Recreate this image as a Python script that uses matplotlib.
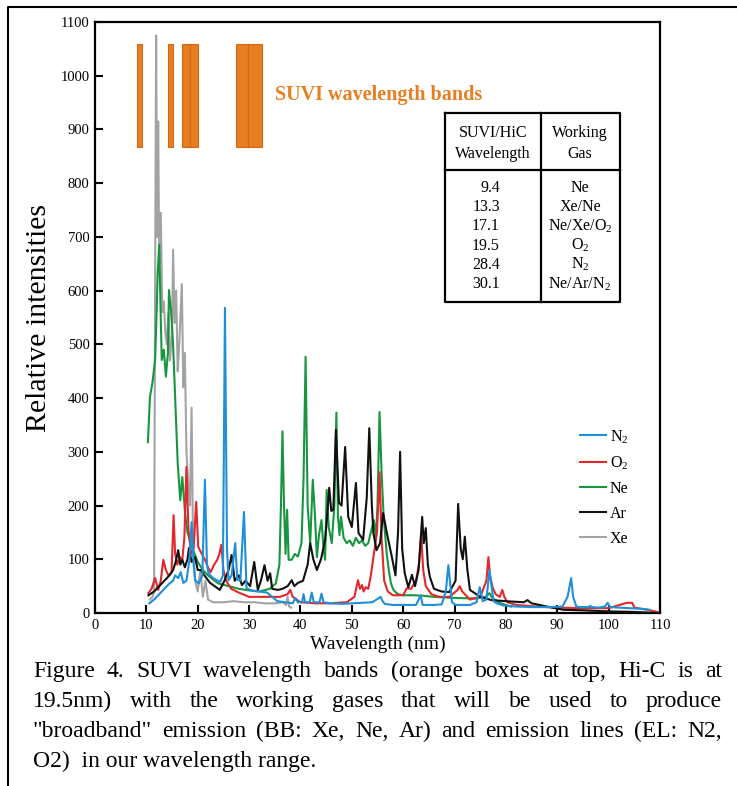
import matplotlib
matplotlib.use("Agg")
import matplotlib.pyplot as plt
from matplotlib.lines import Line2D

plt.rcParams['font.family'] = ['Liberation Serif', 'DejaVu Serif']

# ---- spectra (wavelength nm, relative intensity) ----
n2_wl = [10.6, 11.5, 12.5, 13.5, 14.5, 15.2, 15.6, 16.2, 16.7, 17.2, 17.8, 18.4, 18.8, 19.2, 19.5,
         20.2, 20.9, 21.4, 21.8, 22.1, 23.0, 23.7, 24.4, 24.9, 25.3, 25.7, 26.0, 26.6, 27.3, 27.7,
         28.3, 29.0, 29.5, 30.5, 32.0, 33.5, 34.5, 35.5, 37.0, 38.5, 39.0, 39.5, 40.3, 40.6, 40.9,
         41.8, 42.2, 42.6, 43.7, 44.1, 44.5, 46.0, 48.0, 50.0, 52.0, 54.0, 55.6, 56.0, 56.4, 58.0,
         60.0, 62.5, 63.4, 63.8, 64.5, 66.0, 67.5, 68.3, 68.8, 69.1, 69.5, 70.2, 71.5, 73.0, 74.3,
         74.9, 75.5, 76.2, 76.8, 77.2, 77.6, 78.2, 79.5, 82.0, 85.0, 88.0, 91.0, 92.0, 92.7, 93.1,
         93.7, 94.5, 96.0, 96.4, 96.8, 98.0, 99.3, 99.8, 100.3, 102.0, 104.0, 106.0, 108.0]
n2_val = [18, 25, 35, 45, 55, 60, 70, 65, 76, 56, 60, 100, 169, 90, 61,
          55, 70, 248, 90, 74, 65, 61, 58, 70, 568, 120, 61, 70, 130, 62,
          60, 188, 46, 42, 40, 38, 30, 22, 20, 18, 28, 20, 20, 35, 20,
          20, 38, 20, 20, 36, 20, 18, 17, 18, 19, 20, 30, 22, 17, 15,
          15, 15, 33, 15, 15, 15, 16, 40, 89, 60, 20, 15, 15, 15, 20,
          48, 22, 25, 80, 50, 22, 18, 14, 12, 11, 11, 12, 30, 65, 30,
          12, 11, 11, 13, 11, 10, 12, 19, 11, 10, 9, 8, 6]

o2_wl = [10.4, 11.0, 11.7, 12.3, 12.8, 13.3, 13.8, 14.3, 14.9, 15.3, 15.6, 16.0, 16.5, 17.0, 17.4,
         17.8, 18.2, 18.7, 19.2, 19.7, 20.1, 20.8, 21.4, 22.0, 22.5, 23.2, 23.8, 24.2, 24.6, 25.0,
         25.5, 26.5, 28.0, 30.0, 32.0, 34.0, 36.0, 37.5, 38.0, 38.5, 40.0, 43.0, 46.0, 49.0, 50.5,
         51.2, 51.6, 52.0, 52.3, 52.7, 53.2, 53.7, 54.3, 54.9, 55.4, 55.8, 56.3, 57.0, 58.0, 60.0,
         60.7, 61.5, 62.5, 63.1, 63.5, 63.9, 64.4, 65.5, 67.0, 69.0, 70.6, 71.0, 71.5, 73.0, 75.0,
         76.2, 76.6, 76.9, 77.4, 78.0, 78.8, 79.3, 79.7, 80.3, 82.0, 86.0, 90.0, 95.0, 100.0, 103.2,
         103.6, 104.6, 105.0, 107.0, 109.5]
o2_val = [37, 45, 65, 43, 60, 99, 80, 70, 75, 182, 110, 90, 104, 99, 140,
          272, 155, 110, 120, 207, 123, 110, 99, 85, 76, 90, 99, 110, 127, 80,
          61, 45, 38, 30, 30, 30, 30, 35, 43, 30, 20, 18, 18, 20, 30,
          61, 45, 52, 40, 48, 45, 70, 110, 150, 262, 140, 60, 40, 33, 33,
          46, 45, 60, 93, 145, 80, 50, 35, 30, 30, 43, 50, 40, 25, 30,
          60, 104, 70, 48, 35, 30, 43, 30, 20, 15, 12, 10, 9, 9, 18,
          19, 19, 10, 7, 2]

ne_wl = [10.3, 10.7, 11.2, 11.7, 12.0, 12.2, 12.5, 12.8, 13.0, 13.4, 13.8, 14.2, 14.4, 14.8, 15.2,
         15.6, 16.1, 16.6, 17.0, 17.5, 18.0, 19.0, 20.0, 21.0, 22.0, 24.0, 26.0, 28.0, 30.0, 32.0,
         34.0, 35.2, 35.9, 36.2, 36.5, 36.8, 37.1, 37.4, 37.7, 38.3, 38.9, 39.5, 40.2, 40.6, 41.0,
         41.4, 41.9, 42.4, 42.8, 43.2, 43.6, 44.1, 44.5, 44.8, 45.1, 45.5, 46.1, 46.6, 47.0, 47.3,
         47.6, 47.9, 48.4, 49.0, 49.6, 50.2, 50.8, 51.4, 52.0, 52.6, 53.2, 53.7, 54.3, 54.7, 55.0,
         55.4, 55.8, 56.2, 56.8, 57.2, 57.6, 58.0, 58.4, 59.0, 60.0, 62.0, 64.0, 66.0, 70.0, 74.0,
         76.0, 76.8, 77.2, 77.8, 79.0, 81.0]
ne_val = [318, 402, 430, 471, 560, 633, 685, 550, 471, 490, 440, 484, 601, 564, 500,
          402, 279, 210, 253, 190, 150, 120, 95, 80, 70, 55, 50, 45, 42, 40,
          45, 55, 90, 200, 338, 200, 110, 192, 99, 99, 110, 105, 130, 250, 477,
          200, 130, 248, 186, 104, 145, 173, 120, 99, 229, 160, 130, 200, 373, 180,
          145, 179, 140, 130, 135, 125, 140, 130, 135, 125, 130, 150, 173, 140, 200,
          374, 260, 179, 110, 80, 56, 45, 40, 35, 33, 33, 32, 30, 28, 27,
          30, 37, 30, 25, 18, 12]

ar_wl = [10.4, 11.5, 12.5, 13.5, 14.5, 15.2, 15.7, 16.2, 16.6, 17.0, 17.5, 18.0, 18.3, 18.8, 19.5,
         20.0, 20.6, 21.3, 22.4, 23.3, 24.3, 25.2, 26.0, 26.6, 27.2, 28.0, 28.6, 29.3, 30.2, 31.0,
         31.7, 32.3, 33.0, 33.6, 34.1, 34.5, 35.6, 36.5, 37.5, 38.3, 38.8, 39.5, 40.5, 41.4, 41.9,
         42.5, 43.2, 44.0, 44.8, 45.2, 45.6, 46.0, 46.4, 46.9, 47.5, 48.0, 48.7, 49.3, 50.0, 50.8,
         51.3, 52.2, 52.9, 53.4, 53.9, 54.2, 54.8, 55.5, 56.1, 56.8, 57.8, 58.5, 59.0, 59.4, 59.8,
         60.3, 61.0, 61.7, 62.3, 63.0, 63.7, 64.0, 64.4, 64.8, 65.2, 66.0, 67.5, 69.0, 70.2, 70.7,
         71.2, 71.6, 72.0, 72.5, 73.0, 75.0, 77.2, 80.0, 83.5, 84.2, 85.0, 88.0, 91.2, 95.0, 100.0,
         105.0, 109.4]
ar_val = [33, 40, 50, 60, 70, 80, 95, 117, 90, 99, 85, 100, 121, 95, 104,
          80, 80, 70, 56, 50, 43, 60, 80, 108, 60, 70, 52, 60, 50, 95,
          43, 60, 89, 60, 74, 45, 43, 45, 50, 61, 50, 56, 60, 90, 130,
          100, 80, 100, 136, 180, 233, 190, 192, 341, 205, 200, 309, 179, 160, 242,
          149, 136, 214, 344, 200, 149, 117, 130, 186, 150, 104, 70, 150, 300, 120,
          74, 48, 71, 50, 80, 179, 130, 158, 90, 67, 45, 40, 39, 60, 203,
          120, 100, 142, 80, 43, 30, 24, 22, 20, 24, 18, 12, 6, 5, 3,
          2, 0]

xe_wl = [10.7, 11.2, 11.5, 11.7, 11.9, 12.1, 12.3, 12.5, 12.8, 13.1, 13.4, 13.7, 14.0, 14.3, 14.6,
         15.0, 15.2, 15.5, 15.8, 16.1, 16.4, 16.9, 17.2, 17.5, 17.8, 18.1, 18.5, 18.8, 19.1, 19.5,
         20.0, 20.5, 21.0, 21.5, 22.0, 23.0, 25.0, 27.0, 29.0, 31.0, 33.0, 35.0, 36.5, 37.2, 37.5,
         37.8, 38.2]
xe_val = [25, 30, 40, 600, 1075, 700, 915, 650, 745, 560, 580, 520, 500, 560, 470,
          520, 676, 540, 600, 450, 500, 612, 420, 484, 300, 250, 200, 382, 120, 60,
          40, 80, 30, 60, 25, 20, 20, 22, 20, 20, 18, 18, 20, 15, 30,
          12, 10]

# SUVI bands (orange boxes at top)
band_lo = [8.1, 14.2, 16.9, 18.4, 27.5, 29.7]
band_hi = [9.1, 15.1, 18.4, 20.0, 29.7, 32.5]
band_bottom = 868
band_top = 1059

table_wl = ['9.4', '13.3', '17.1', '19.5', '28.4', '30.1']
table_gas = ['Ne', 'Xe/Ne', r'Ne/Xe/O$_{\mathregular{2}}$', r'O$_{\mathregular{2}}$',
             r'N$_{\mathregular{2}}$', r'Ne/Ar/N$_{\mathregular{2}}$']

caption = ['Figure 4. SUVI wavelength bands (orange boxes at top, Hi-C is at',
           '19.5nm) with the working gases that will be used to produce',
           '"broadband" emission (BB: Xe, Ne, Ar) and emission lines (EL: N2,',
           'O2)  in our wavelength range.']

W, H = 737, 786
fig = plt.figure(figsize=(W / 100, H / 100), dpi=100)
ax = fig.add_axes([95 / W, 1 - 613 / H, 565 / W, 591 / H])

orange = '#E67E22'
for lo, hi in zip(band_lo, band_hi):
    ax.bar(lo, band_top - band_bottom, width=hi - lo, bottom=band_bottom, align='edge',
           color=orange, edgecolor='#D2691A', linewidth=0.8, zorder=1)

lw = 1.5
h_xe, = ax.plot(xe_wl, xe_val, color='#A3A3A3', lw=lw, zorder=2)
h_ne, = ax.plot(ne_wl, ne_val, color='#17963F', lw=lw, zorder=3)
h_o2, = ax.plot(o2_wl, o2_val, color='#E2282B', lw=lw, zorder=4)
h_ar, = ax.plot(ar_wl, ar_val, color='#111111', lw=lw, zorder=5)
h_n2, = ax.plot(n2_wl, n2_val, color='#1E8FD8', lw=lw, zorder=6)

ax.set_xlim(0, 110)
ax.set_ylim(0, 1100)
ax.set_xticks(range(0, 111, 10))
ax.set_yticks(range(0, 1101, 100))
ax.tick_params(direction='in', length=6, width=1.5, labelsize=10.5, pad=4)
for s in ax.spines.values():
    s.set_linewidth(1.6)
ax.set_xlabel('Wavelength (nm)', fontsize=14, labelpad=3)
ax.set_ylabel('Relative intensities', fontsize=21.5, labelpad=6)

ax.text(35.0, 965, 'SUVI wavelength bands', color=orange, fontsize=14.5,
        fontweight='bold', va='center', ha='left')

ax.legend([h_n2, h_o2, h_ne, h_ar, h_xe],
          [r'N$_{\mathregular{2}}$', r'O$_{\mathregular{2}}$', 'Ne', 'Ar', 'Xe'],
          loc='upper left', bbox_to_anchor=((580 - 95) / 565, (613 - 428) / 591),
          frameon=False, fontsize=11.5, handlelength=1.6, handletextpad=0.25,
          labelspacing=0.55, borderpad=0, borderaxespad=0)

# table with the working gases
def fx(px):
    return (px - 95) / 565

def fy(py):
    return (613 - py) / 591

tk = dict(transform=ax.transAxes, color='black', lw=1.6, zorder=7)
ax.add_line(Line2D([fx(445), fx(620), fx(620), fx(445), fx(445)],
                   [fy(113), fy(113), fy(302), fy(302), fy(113)], **tk))
ax.add_line(Line2D([fx(445), fx(620)], [fy(170), fy(170)], **tk))
ax.add_line(Line2D([fx(541), fx(541)], [fy(113), fy(302)], **tk))
tfs = 11.5
ax.text(fx(493), fy(133), 'SUVI/HiC', transform=ax.transAxes, ha='center', va='center', fontsize=tfs)
ax.text(fx(493), fy(154), 'Wavelength', transform=ax.transAxes, ha='center', va='center', fontsize=tfs)
ax.text(fx(580), fy(133), 'Working', transform=ax.transAxes, ha='center', va='center', fontsize=tfs)
ax.text(fx(580), fy(154), 'Gas', transform=ax.transAxes, ha='center', va='center', fontsize=tfs)
for i, (w, g) in enumerate(zip(table_wl, table_gas)):
    yy = 192 + i * 19.2
    ax.text(fx(500), fy(yy), w, transform=ax.transAxes, ha='right', va='baseline', fontsize=tfs)
    ax.text(fx(580), fy(yy), g, transform=ax.transAxes, ha='center', va='baseline', fontsize=tfs)

# outer frame (left and top)
fig.add_artist(Line2D([8 / W, 8 / W, 1.0], [0.0, 1 - 7 / H, 1 - 7 / H],
                      transform=fig.transFigure, color='black', lw=1.5))

# justified caption
x0, x1 = 33, 722
cfs = 17
fig.canvas.draw()
rend = fig.canvas.get_renderer()
for i, line in enumerate(caption):
    yb = 1 - (677 + i * 30) / H
    if i == len(caption) - 1:
        fig.text(x0 / W, yb, line, fontsize=cfs, va='baseline', ha='left')
        continue
    words = line.split(' ')
    texts = [fig.text(0, yb, wd, fontsize=cfs, va='baseline', ha='left') for wd in words]
    widths = [t.get_window_extent(rend).width for t in texts]
    gap = (x1 - x0 - sum(widths)) / (len(words) - 1)
    xp = x0
    for t, wd in zip(texts, widths):
        t.set_x(xp / W)
        xp += wd + gap

fig.savefig('out.png', dpi=100)
